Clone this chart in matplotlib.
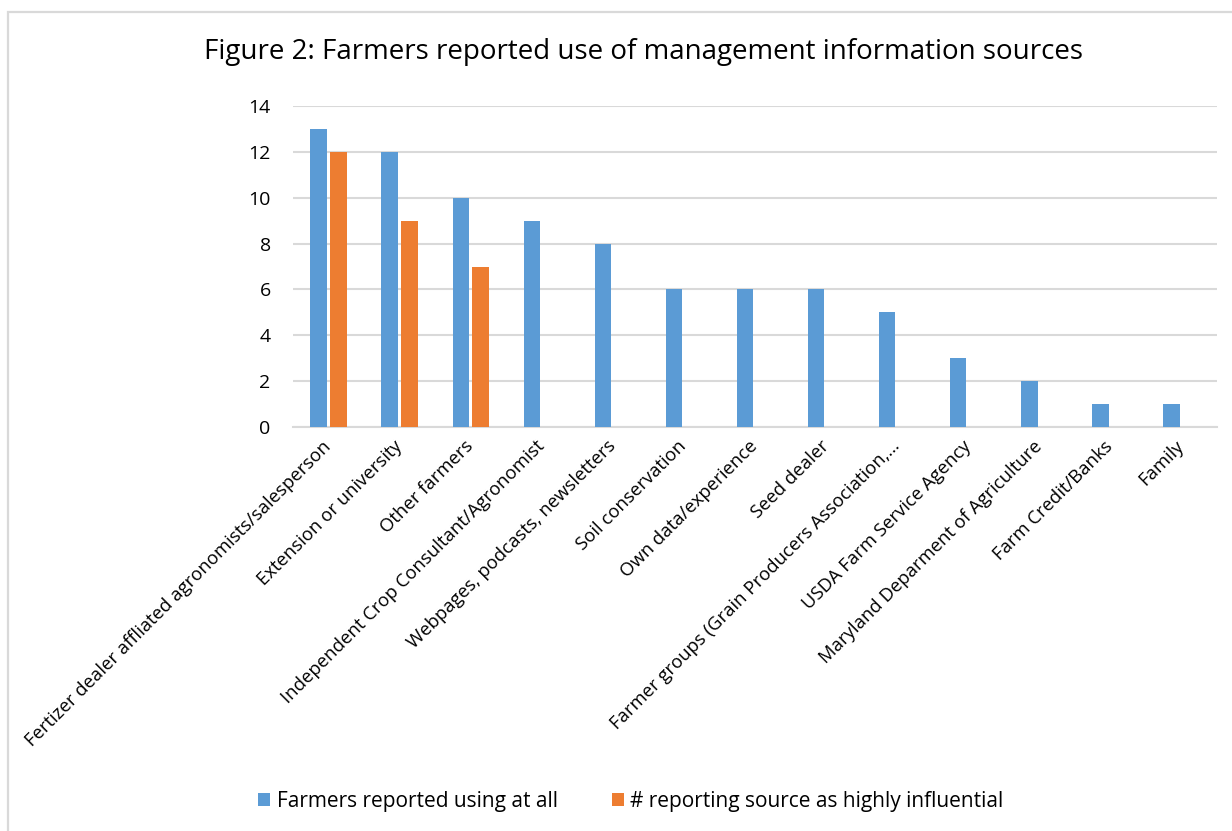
import numpy as np
import matplotlib
matplotlib.use('Agg')
from matplotlib import pyplot as plt
from matplotlib.patches import Rectangle

plt.rcParams['font.family'] = ['Open Sans', 'DejaVu Sans']

sources = [
    'Fertizer dealer affliated agronomists/salesperson',
    'Extension or university',
    'Other farmers',
    'Independent Crop Consultant/Agronomist',
    'Webpages, podcasts, newsletters',
    'Soil conservation',
    'Own data/experience',
    'Seed dealer',
    'Farmer groups (Grain Producers Association,\u2026',
    'USDA Farm Service Agency',
    'Maryland Deparment of Agriculture',
    'Farm Credit/Banks',
    'Family',
]
using_at_all = [13, 12, 10, 9, 8, 6, 6, 6, 5, 3, 2, 1, 1]
highly_influential = [12, 9, 7, 0, 0, 0, 0, 0, 0, 0, 0, 0, 0]

blue = '#5b9bd5'
orange = '#ed7d31'
grid_grey = '#d9d9d9'

fig = plt.figure(figsize=(12.32, 8.31), dpi=100)
ax = fig.add_axes([0.2378, 0.4862, 0.75, 0.3862])

# chart area frame
fig.patches.append(Rectangle((8 / 1232, -0.05), 1.2, 1 - 12 / 831 + 0.05,
                             transform=fig.transFigure, fill=False,
                             edgecolor=grid_grey, linewidth=1.6))

x = np.arange(len(sources))
w = 0.23
ax.bar(x - 0.14, using_at_all, w, color=blue, linewidth=0,
       label='Farmers reported using at all', zorder=3)
ax.bar(x + 0.14, highly_influential, w, color=orange, linewidth=0,
       label='# reporting source as highly influential', zorder=3)

ax.set_xlim(-0.5, len(sources) - 0.5)
ax.set_ylim(0, 14)
ax.set_yticks(range(0, 15, 2))
ax.yaxis.grid(True, color=grid_grey, linewidth=1.5, zorder=0)
for s in ['top', 'right', 'left']:
    ax.spines[s].set_visible(False)
ax.spines['bottom'].set_color(grid_grey)
ax.spines['bottom'].set_linewidth(1.5)
ax.tick_params(axis='both', length=0, colors='black')
ax.tick_params(axis='y', labelsize=14, pad=16)
ax.tick_params(axis='x', pad=12)

ax.set_xticks(x)
ax.set_xticklabels(sources, rotation=45, ha='right', va='center',
                   rotation_mode='anchor', fontsize=13.3)

fig.text(0.522, 0.938, 'Figure 2: Farmers reported use of management information sources',
         ha='center', va='center', fontsize=20)

fig.legend(loc='center', bbox_to_anchor=(0.512, 0.036), ncol=2, frameon=False,
           fontsize=15, handlelength=0.6, handleheight=0.6, columnspacing=2.6,
           handletextpad=0.3)

plt.savefig('out.png', dpi=100)
